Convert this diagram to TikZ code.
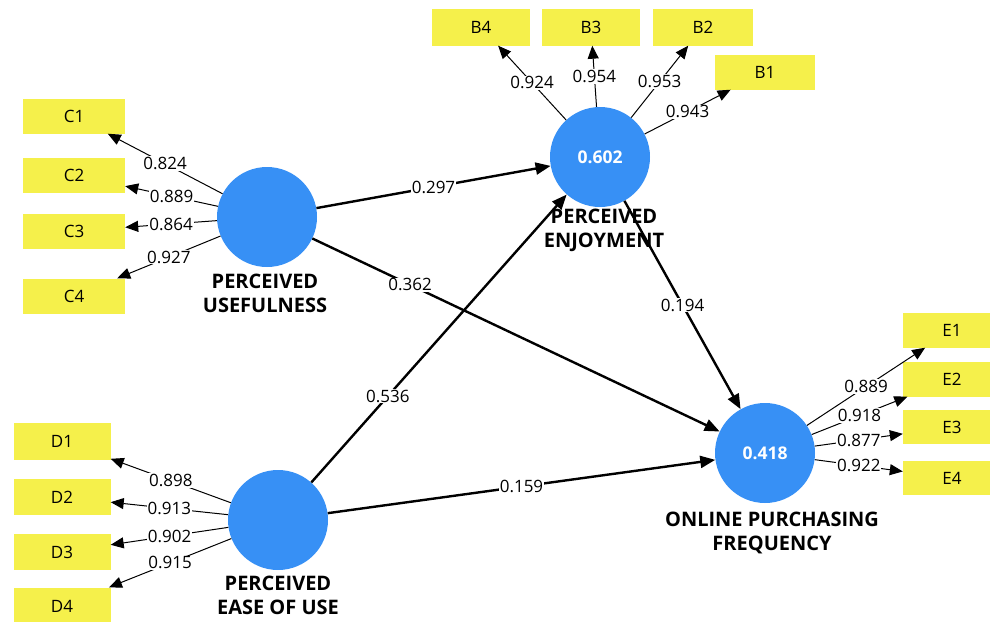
\documentclass[tikz,border=0pt]{standalone}
\usepackage{fontspec}
\setmainfont{Open Sans}
\usetikzlibrary{arrows.meta}
\definecolor{lvblue}{RGB}{55,144,245}
\definecolor{mvyellow}{RGB}{245,240,75}

\begin{document}
\begin{tikzpicture}[x=1pt,y=-1pt,
  latent/.style={circle,fill=lvblue,minimum size=100pt,inner sep=0pt,text=white,
    font=\fontsize{17.5}{20}\selectfont\bfseries},
  indicator/.style={rectangle,fill=mvyellow,minimum width=100pt,minimum height=36pt,
    inner sep=0pt,font=\fontsize{17}{20}\selectfont},
  lvname/.style={align=center,font=\fontsize{20}{24}\selectfont\bfseries},
  loading/.style={line width=1pt,-{Triangle[length=13pt,width=11pt]}},
  structpath/.style={line width=2.4pt,-{Triangle[length=15pt,width=12pt]}},
  coef/.style={fill=white,inner sep=1pt,font=\fontsize{17}{20}\selectfont}
]
\useasboundingbox (0,0) rectangle (990,621);

% latent variables
\node[latent] (PU)   at (267,217) {};
\node[latent] (PE)   at (600,157) {0.602};
\node[latent] (PEOU) at (278,520) {};
\node[latent] (OPF)  at (765,453) {0.418};

% indicators
\node[indicator,minimum width=102pt,minimum height=35pt] (C1) at (74,116) {C1};
\node[indicator,minimum width=102pt,minimum height=35pt] (C2) at (74,175) {C2};
\node[indicator,minimum width=102pt,minimum height=35pt] (C3) at (74,231) {C3};
\node[indicator,minimum width=102pt,minimum height=35pt] (C4) at (74,296) {C4};

\node[indicator,minimum width=98pt,minimum height=37pt] (B4) at (481,27) {B4};
\node[indicator,minimum width=98pt,minimum height=37pt] (B3) at (591,27) {B3};
\node[indicator,minimum width=100pt,minimum height=37pt] (B2) at (703,27) {B2};
\node[indicator,minimum width=100pt,minimum height=35pt] (B1) at (765,72) {B1};

\node[indicator,minimum width=97pt,minimum height=37pt] (D1) at (62,441) {D1};
\node[indicator,minimum width=97pt,minimum height=36pt] (D2) at (62,497) {D2};
\node[indicator,minimum width=97pt,minimum height=36pt] (D3) at (62,552) {D3};
\node[indicator,minimum width=97pt,minimum height=37pt] (D4) at (62,606) {D4};

\node[indicator,minimum width=98pt,minimum height=35pt] (E1) at (952,330) {E1};
\node[indicator,minimum width=98pt,minimum height=35pt] (E2) at (952,379) {E2};
\node[indicator,minimum width=98pt,minimum height=34pt] (E3) at (952,427) {E3};
\node[indicator,minimum width=98pt,minimum height=34pt] (E4) at (952,478) {E4};

% outer loadings
\draw[loading] (PU) -- node[coef] {0.824} (C1);
\draw[loading] (PU) -- node[coef] {0.889} (C2);
\draw[loading] (PU) -- node[coef] {0.864} (C3);
\draw[loading] (PU) -- node[coef] {0.927} (C4);

\draw[loading] (PE) -- node[coef] {0.924} (B4);
\draw[loading] (PE) -- node[coef] {0.954} (B3);
\draw[loading] (PE) -- node[coef] {0.953} (B2);
\draw[loading] (PE) -- node[coef] {0.943} (B1);

\draw[loading] (PEOU) -- node[coef] {0.898} (D1);
\draw[loading] (PEOU) -- node[coef] {0.913} (D2);
\draw[loading] (PEOU) -- node[coef] {0.902} (D3);
\draw[loading] (PEOU) -- node[coef] {0.915} (D4);

\draw[loading] (OPF) -- node[coef] {0.889} (E1);
\draw[loading] (OPF) -- node[coef] {0.918} (E2);
\draw[loading] (OPF) -- node[coef] {0.877} (E3);
\draw[loading] (OPF) -- node[coef] {0.922} (E4);

% structural paths
\draw[structpath] (PU) -- node[coef] {0.297} (PE);
\draw[structpath] (PU) -- node[coef,pos=0.24] {0.362} (OPF);
\draw[structpath] (PEOU) -- node[coef,pos=0.3] {0.536} (PE);
\draw[structpath] (PEOU) -- node[coef] {0.159} (OPF);
\draw[structpath] (PE) -- node[coef] {0.194} (OPF);

% construct names
\node[lvname] (PUname)   at (265,293) {PERCEIVED\\USEFULNESS};
\node[lvname] (PEname)   at (604,230) {PERCEIVED\\ENJOYMENT};
\node[lvname] (PEOUname) at (278,595) {PERCEIVED\\EASE OF USE};
\node[lvname] (OPFname)  at (772,533) {ONLINE PURCHASING\\FREQUENCY};
\end{tikzpicture}
\end{document}
